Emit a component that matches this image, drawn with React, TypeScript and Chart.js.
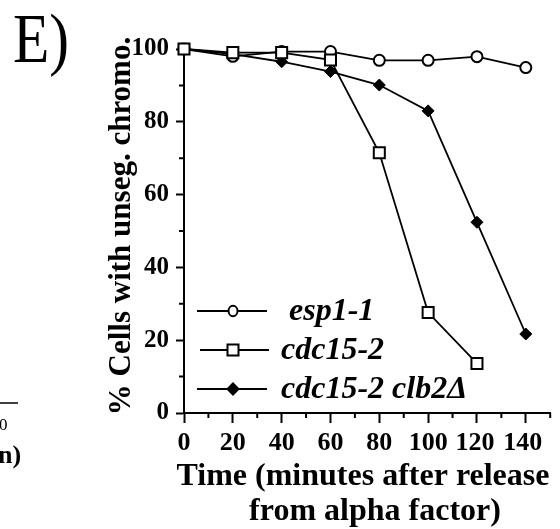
import React, { useEffect, useRef } from "react";
import { Chart, registerables } from "chart.js";

Chart.register(...registerables);

const times = [0, 20, 40, 60, 80, 100, 120, 140];
const esp11 = [100, 98, 99.3, 99.3, 96.9, 96.9, 97.9, 94.9];
const cdc152 = [100, 99, 99, 97, 71.5, 27.6, 13.6];
const cdc152clb2 = [100, 98.6, 96.5, 93.8, 90.1, 83, 52.4, 21.7];
const xMajorTicks = [0, 20, 40, 60, 80, 100, 120, 140];
const xMinorTicks = [10, 30, 50, 70, 90, 110, 130, 150];
const yMajorTicks = [0, 20, 40, 60, 80, 100];
const yMinorTicks = [10, 30, 50, 70, 90];
const legendLabels = [" esp1-1", "cdc15-2", "cdc15-2 clb2\u0394"];
const xTitle = ["Time (minutes after release", "from alpha factor)"];
const yTitle = "% Cells with unseg. chromo.";
const panelLabel = "E)";

const SERIF = "'Liberation Serif', 'Times New Roman', serif";

function drawMarker(ctx: CanvasRenderingContext2D, kind: string, x: number, y: number, r: number) {
  ctx.beginPath();
  if (kind === "circle") {
    ctx.ellipse(x, y, r, r * 1.15, 0, 0, Math.PI * 2);
    ctx.fillStyle = "#fff";
    ctx.fill();
    ctx.stroke();
  } else if (kind === "rect") {
    ctx.rect(x - r, y - r, 2 * r, 2 * r);
    ctx.fillStyle = "#fff";
    ctx.fill();
    ctx.stroke();
  } else {
    ctx.moveTo(x, y - r);
    ctx.lineTo(x + r, y);
    ctx.lineTo(x, y + r);
    ctx.lineTo(x - r, y);
    ctx.closePath();
    ctx.fillStyle = "#000";
    ctx.fill();
    ctx.stroke();
  }
}

const overlayPlugin = {
  id: "overlay",
  afterDraw(chart: any) {
    const ctx: CanvasRenderingContext2D = chart.ctx;
    const xs = chart.scales.x;
    const ys = chart.scales.y;
    ctx.save();
    ctx.strokeStyle = "#000";
    ctx.fillStyle = "#000";
    ctx.lineWidth = 2;
    // minor ticks
    ctx.beginPath();
    for (const v of xMinorTicks) {
      const px = xs.getPixelForValue(v);
      ctx.moveTo(px, xs.top);
      ctx.lineTo(px, xs.top + 5);
    }
    for (const v of yMinorTicks) {
      const py = ys.getPixelForValue(v);
      ctx.moveTo(ys.right - 5, py);
      ctx.lineTo(ys.right, py);
    }
    ctx.stroke();

    // x tick labels
    ctx.font = `bold 26px ${SERIF}`;
    ctx.textAlign = "center";
    ctx.textBaseline = "alphabetic";
    for (const v of xMajorTicks) {
      const px = xs.getPixelForValue(v);
      const nudge = v === 140 ? -3 : v === 120 ? -2 : 0;
      ctx.fillText(String(v), px + nudge, 450);
    }

    // panel label
    ctx.save();
    ctx.font = `70px ${SERIF}`;
    ctx.textAlign = "left";
    ctx.textBaseline = "alphabetic";
    ctx.translate(13, 62);
    ctx.scale(0.85, 1);
    ctx.fillText(panelLabel, 0, 0);
    ctx.restore();

    // fragments of neighbouring panel
    ctx.textAlign = "left";
    ctx.lineWidth = 1.5;
    ctx.beginPath();
    ctx.moveTo(0, 403);
    ctx.lineTo(18, 403);
    ctx.stroke();
    ctx.font = `17px ${SERIF}`;
    ctx.fillText("0", -1, 430);
    ctx.font = `bold 26px ${SERIF}`;
    ctx.fillText("n)", -2, 463);

    // axis titles
    ctx.font = `bold 32px ${SERIF}`;
    ctx.textAlign = "center";
    ctx.textBaseline = "alphabetic";
    ctx.fillText(xTitle[0], 363, 485);
    ctx.fillText(xTitle[1], 375, 520);
    ctx.save();
    ctx.translate(130, 226);
    ctx.rotate(-Math.PI / 2);
    ctx.font = `bold 31px ${SERIF}`;
    ctx.fillText(yTitle, 0, 0);
    ctx.restore();

    // legend
    const kinds = ["circle", "rect", "diamond"];
    const rows = [311, 350, 389];
    const lineX = [[197, 267], [200, 269], [197, 267]];
    const sizes = [4.5, 5.5, 5.5];
    const textX = [281, 281, 281];
    ctx.textAlign = "left";
    ctx.textBaseline = "middle";
    ctx.font = `italic bold 32px ${SERIF}`;
    for (let i = 0; i < 3; i++) {
      ctx.lineWidth = 2;
      ctx.strokeStyle = "#000";
      ctx.beginPath();
      ctx.moveTo(lineX[i][0], rows[i]);
      ctx.lineTo(lineX[i][1], rows[i]);
      ctx.stroke();
      ctx.lineWidth = 2;
      drawMarker(ctx, kinds[i], 233, rows[i], sizes[i]);
      ctx.fillStyle = "#000";
      ctx.fillText(legendLabels[i], textX[i], rows[i] + 1);
    }
    ctx.restore();
  },
};

export default function App() {
  const ref = useRef<HTMLCanvasElement | null>(null);
  useEffect(() => {
    if (!ref.current) return;
    const chart = new Chart(ref.current, {
      type: "line",
      data: {
        labels: times,
        datasets: [
          {
            label: legendLabels[2],
            data: cdc152clb2.map((v, i) => ({ x: times[i], y: v })),
            borderColor: "#000",
            borderWidth: 1.8,
            pointStyle: "rectRot",
            pointRadius: 6,
            pointBackgroundColor: "#000",
            pointBorderColor: "#000",
            pointBorderWidth: 1,
            order: 3,
            clip: false,
          },
          {
            label: legendLabels[0],
            data: esp11.map((v, i) => ({ x: times[i], y: v })),
            borderColor: "#000",
            borderWidth: 1.8,
            pointStyle: "circle",
            pointRadius: 5.5,
            pointBackgroundColor: "#fff",
            pointBorderColor: "#000",
            pointBorderWidth: 2,
            order: 2,
            clip: false,
          },
          {
            label: legendLabels[1],
            data: cdc152.map((v, i) => ({ x: times[i], y: v })),
            borderColor: "#000",
            borderWidth: 1.8,
            pointStyle: "rect",
            pointRadius: 7.8,
            pointBackgroundColor: "#fff",
            pointBorderColor: "#000",
            pointBorderWidth: 2,
            order: 1,
            clip: false,
          },
        ] as any,
      },
      options: {
        animation: false,
        responsive: false,
        events: [],
        layout: { padding: { top: 49, right: 2, left: 0, bottom: 0 } },
        plugins: { legend: { display: false }, tooltip: { enabled: false } },
        scales: {
          x: {
            type: "linear",
            min: 0,
            max: 150,
            afterFit: (s: any) => {
              s.height = 116;
            },
            afterBuildTicks: (s: any) => {
              s.ticks = xMajorTicks.map((v) => ({ value: v }));
            },
            border: { display: true, color: "#000", width: 2 },
            grid: { display: true, drawOnChartArea: false, drawTicks: true, tickLength: 10, tickColor: "#000", tickWidth: 2 },
            ticks: { display: false },
          },
          y: {
            type: "linear",
            min: 0,
            max: 100,
            afterFit: (s: any) => {
              s.width = 184;
            },
            afterBuildTicks: (s: any) => {
              s.ticks = yMajorTicks.map((v) => ({ value: v }));
            },
            border: { display: true, color: "#000", width: 2 },
            grid: { display: true, drawOnChartArea: false, drawTicks: true, tickLength: 8, tickColor: "#000", tickWidth: 2 },
            ticks: {
              color: "#000",
              font: { family: SERIF, size: 25, weight: "bold" },
              padding: 7,
              autoSkip: false,
            },
          },
        },
      } as any,
      plugins: [overlayPlugin],
    });
    return () => chart.destroy();
  }, []);
  return (
    <div style={{ position: "absolute", left: 0, top: 0, width: 560, height: 529, background: "#fff" }}>
      <canvas ref={ref} width={560} height={529} style={{ width: 560, height: 529, display: "block" }} />
    </div>
  );
}
